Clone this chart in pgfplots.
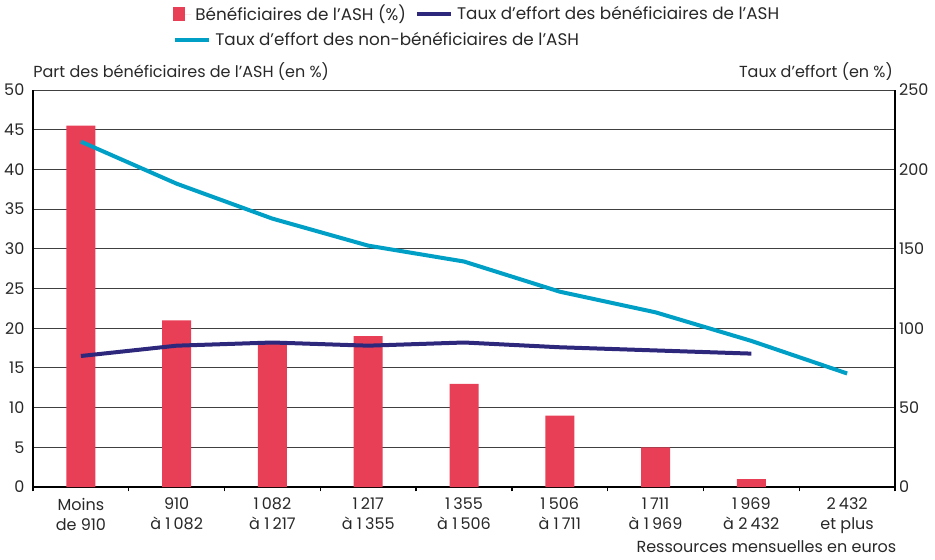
\documentclass[border=0pt]{standalone}
\usepackage{fontspec}
\setmainfont{Poppins}
\usepackage{pgfplots}
\pgfplotsset{compat=1.18}
\definecolor{barred}{RGB}{232,62,86}
\definecolor{navy}{RGB}{46,40,125}
\definecolor{cyanl}{RGB}{0,160,198}
\definecolor{txt}{RGB}{40,40,40}
\newcommand{\ts}{\hspace{1.6pt}}
\begin{document}
\begin{tikzpicture}[font=\fontsize{8}{10}\selectfont]
\path[use as bounding box] (-16.5pt,-36pt) rectangle (451pt,243.5pt);
\begin{axis}[
  scale only axis, width=431pt, height=198.5pt,
  xmin=-0.5, xmax=8.5, ymin=0, ymax=50,
  axis y line*=left, axis x line*=bottom,
  axis line style={black, line width=0.7pt, -},
  xtick={0,...,8},
  xticklabels={{Moins\\de 910},{910\\à 1\ts082},{1\ts082\\à 1\ts217},{1\ts217\\à 1\ts355},{1\ts355\\à 1\ts506},{1\ts506\\à 1\ts711},{1\ts711\\à 1\ts969},{1\ts969\\à 2\ts432},{2\ts432\\et plus}},
  x tick label style={align=center, text=txt, font=\fontsize{8}{10}\selectfont, yshift=-2pt},
  minor xtick={-0.5,0.5,...,8.5},
  xtick align=outside, major tick length=0pt, minor tick length=2.2pt,
  minor x tick style={black, line width=0.7pt},
  ytick={0,5,...,50},
  y tick label style={text=txt, xshift=-0.8pt},
  /pgf/number format/assume math mode=true,
  ymajorgrids, grid style={black!75, line width=0.5pt},
  legend style={at={(0.1624,1.1914)}, anchor=west, draw=none, fill=none, inner sep=0pt,
    font=\fontsize{8.4}{10}\selectfont, text=txt, cells={anchor=west},
    /tikz/every even column/.append style={column sep=2.5pt}},
  legend columns=2,
  clip=false,
]
\addplot[ybar, bar width=14.5pt, fill=barred, draw=none,
  legend image code/.code={\fill[barred] (0pt,-3.5pt) rectangle (6pt,3.5pt); \path (0pt,0pt) -- (9pt,0pt);}]
  coordinates {(0,45.5) (1,21) (2,18) (3,19) (4,13) (5,9) (6,5) (7,1)};
\addlegendentry{Bénéficiaires de l’ASH (\%)}
\addlegendimage{legend image code/.code={\draw[navy, line width=2pt] (0pt,0pt) -- (17pt,0pt);}}
\addlegendentry{Taux d’effort des bénéficiaires de l’ASH}
\node[anchor=base west, inner sep=0pt, text=txt] at (axis description cs:0,1.0327) {Part des bénéficiaires de l’ASH (en \%)};
\node[anchor=base east, inner sep=0pt, text=txt] at (axis description cs:0.998,1.0327) {Taux d’effort (en \%)};
\node[anchor=base east, inner sep=0pt, text=txt] at (axis description cs:1.002,-0.1662) {Ressources mensuelles en euros};
\end{axis}
\begin{axis}[
  scale only axis, width=431pt, height=198.5pt,
  xmin=-0.5, xmax=8.5, ymin=0, ymax=250,
  axis y line*=right, axis x line=none,
  axis line style={black, line width=0.7pt, -},
  ytick={0,50,...,250}, major tick length=0pt,
  y tick label style={text=txt, xshift=-1.5pt},
  /pgf/number format/assume math mode=true,
  legend style={at={(0.1624,1.126)}, anchor=west, draw=none, fill=none, inner sep=0pt,
    font=\fontsize{8.4}{10}\selectfont, text=txt, cells={anchor=west}},
]
\addplot[navy, line width=2pt, line join=round, forget plot]
  coordinates {(0,82.5) (1,89) (2,91) (3,89) (4,91) (5,88) (6,86) (7,84)};
\addplot[cyanl, line width=2pt, line join=round,
  legend image code/.code={\draw[cyanl, line width=2pt] (0pt,0pt) -- (17pt,0pt);}]
  coordinates {(0,217.5) (1,191) (2,169) (3,152) (4,142) (5,123) (6,110) (7,92) (8,71.5)};
\addlegendentry{Taux d'effort des non-bénéficiaires de l'ASH}
\end{axis}
\end{tikzpicture}
\end{document}
